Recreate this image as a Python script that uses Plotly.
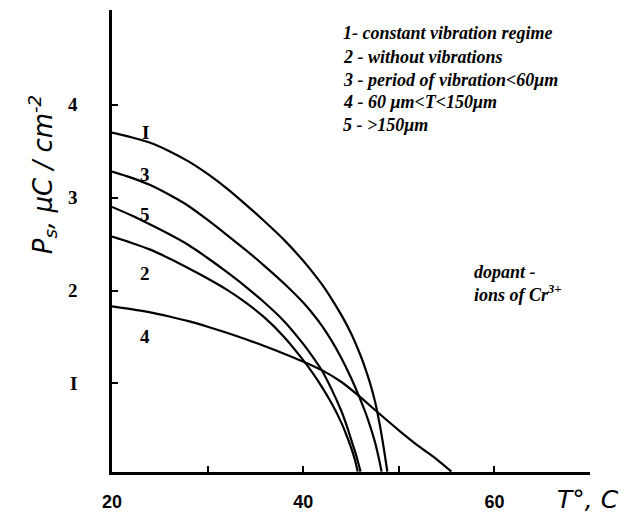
import plotly.graph_objects as go

# ---- data ----
t_curve1 = [20, 22, 24, 26, 28, 30, 32, 34, 36, 38, 40, 41, 42, 43, 44, 45, 46, 46.5, 47, 47.5, 48, 48.4, 48.8]
p_curve1 = [3.700, 3.650, 3.590, 3.500, 3.390, 3.255, 3.100, 2.925, 2.740, 2.545, 2.320, 2.195,
            2.060, 1.905, 1.735, 1.540, 1.300, 1.160, 1.000, 0.810, 0.560, 0.320, 0.050]
t_curve3 = [20, 22, 24, 26, 28, 30, 32, 34, 36, 38, 40, 41, 42, 43, 44, 45, 46, 46.5, 47, 47.5, 47.9, 48.2]
p_curve3 = [3.280, 3.215, 3.135, 3.030, 2.910, 2.760, 2.600, 2.435, 2.260, 2.075, 1.870, 1.750,
            1.615, 1.455, 1.270, 1.060, 0.820, 0.690, 0.540, 0.370, 0.200, 0.050]
t_curve5 = [20, 22, 24, 26, 28, 30, 32, 34, 36, 38, 40, 41, 42, 43, 44, 44.6, 45, 45.5, 46.0]
p_curve5 = [2.900, 2.810, 2.710, 2.605, 2.490, 2.350, 2.200, 2.040, 1.865, 1.670, 1.425, 1.285,
            1.130, 0.930, 0.700, 0.530, 0.400, 0.240, 0.050]
t_curve2 = [20, 22, 24, 26, 28, 30, 32, 34, 36, 38, 40, 41, 42, 43, 44, 44.5, 45, 45.4, 45.7]
p_curve2 = [2.580, 2.515, 2.440, 2.345, 2.240, 2.130, 2.010, 1.870, 1.705, 1.500, 1.250, 1.110,
            0.955, 0.780, 0.575, 0.450, 0.310, 0.180, 0.050]
t_curve4 = [20, 22, 24, 26, 28, 30, 32, 34, 36, 38, 40, 42, 44, 46, 48, 50, 52, 54, 55.5]
p_curve4 = [1.830, 1.800, 1.765, 1.720, 1.670, 1.610, 1.545, 1.475, 1.400, 1.320, 1.235, 1.140,
            1.015, 0.850, 0.670, 0.495, 0.330, 0.180, 0.050]

curve_names = ["I", "3", "5", "2", "4"]
label_t = [23.5, 23.5, 23.5, 23.5, 23.5]
label_p = [3.70, 3.25, 2.82, 2.18, 1.51]

x_tickvals = [20, 30, 40, 50, 60]
x_ticktext = ["20", "", "40", "", "60"]
y_tickvals = [1, 2, 3, 4]
y_ticktext = ["I", "2", "3", "4"]

legend_lines = [
    "1- constant vibration regime",
    "2 - without vibrations",
    "3 - period of vibration&lt;60μm",
    "4 - 60 μm&lt;T&lt;150μm",
    "5 - &gt;150μm",
]
note_lines = ["dopant -", "ions of Cr<sup>3+</sup>"]

fig = go.Figure()
for t, p in [(t_curve1, p_curve1), (t_curve3, p_curve3), (t_curve5, p_curve5),
             (t_curve2, p_curve2), (t_curve4, p_curve4)]:
    fig.add_trace(go.Scatter(x=t, y=p, mode="lines",
                             line=dict(color="black", width=2.2, shape="spline", smoothing=0.8),
                             showlegend=False, hoverinfo="skip"))

serif_bold = dict(family="Liberation Serif", size=19, color="black", weight="bold")
for name, tx, py in zip(curve_names, label_t, label_p):
    fig.add_annotation(x=tx, y=py, text=name, showarrow=False, font=serif_bold,
                       xanchor="center", yanchor="middle")

legend_font = dict(family="Liberation Serif", size=18, color="black", weight="bold", style="italic")
legend_y_px = [33, 57, 80, 102, 125]
for line, ypx in zip(legend_lines, legend_y_px):
    fig.add_annotation(xref="paper", yref="paper", x=(341 - 112) / 478, y=(474 - ypx) / 464,
                       text=line, showarrow=False, font=legend_font,
                       xanchor="left", yanchor="middle")

for line, ypx in zip(note_lines, [273, 295]):
    fig.add_annotation(xref="paper", yref="paper", x=(472 - 112) / 478, y=(474 - ypx) / 464,
                       text=line, showarrow=False, font=legend_font,
                       xanchor="left", yanchor="middle")

# axis titles
fig.add_annotation(xref="paper", yref="paper", x=(555 - 112) / 478, y=(474 - 502) / 464,
                   text="T°, C", showarrow=False,
                   font=dict(family="DejaVu Sans", size=25, color="black", style="italic"),
                   xanchor="left", yanchor="middle")
fig.add_annotation(xref="paper", yref="paper", x=(42 - 112) / 478, y=(474 - 176) / 464,
                   text="P<sub>s</sub>, μC / cm<sup>-2</sup>", showarrow=False, textangle=-90,
                   font=dict(family="DejaVu Sans", size=26, color="black", style="italic"),
                   xanchor="center", yanchor="middle")

fig.update_layout(
    width=626, height=522,
    margin=dict(l=112, r=36, t=10, b=48),
    paper_bgcolor="white", plot_bgcolor="white",
    xaxis=dict(range=[20, 70], showgrid=False, zeroline=False, showline=True,
               linecolor="black", linewidth=2.5, ticks="inside", ticklen=6, tickwidth=2,
               tickcolor="black", tickvals=x_tickvals, ticktext=x_ticktext,
               tickfont=dict(family="Liberation Sans", size=18, color="black", weight="bold"),
               ticklabelstandoff=12),
    yaxis=dict(range=[0.046, 5.02], showgrid=False, zeroline=False, showline=True,
               linecolor="black", linewidth=2.5, ticks="inside", ticklen=6, tickwidth=2,
               tickcolor="black", tickvals=y_tickvals, ticktext=y_ticktext,
               tickfont=dict(family="Liberation Serif", size=19, color="black", weight="bold"),
               ticklabelstandoff=28),
)

fig.write_html("out.html")
